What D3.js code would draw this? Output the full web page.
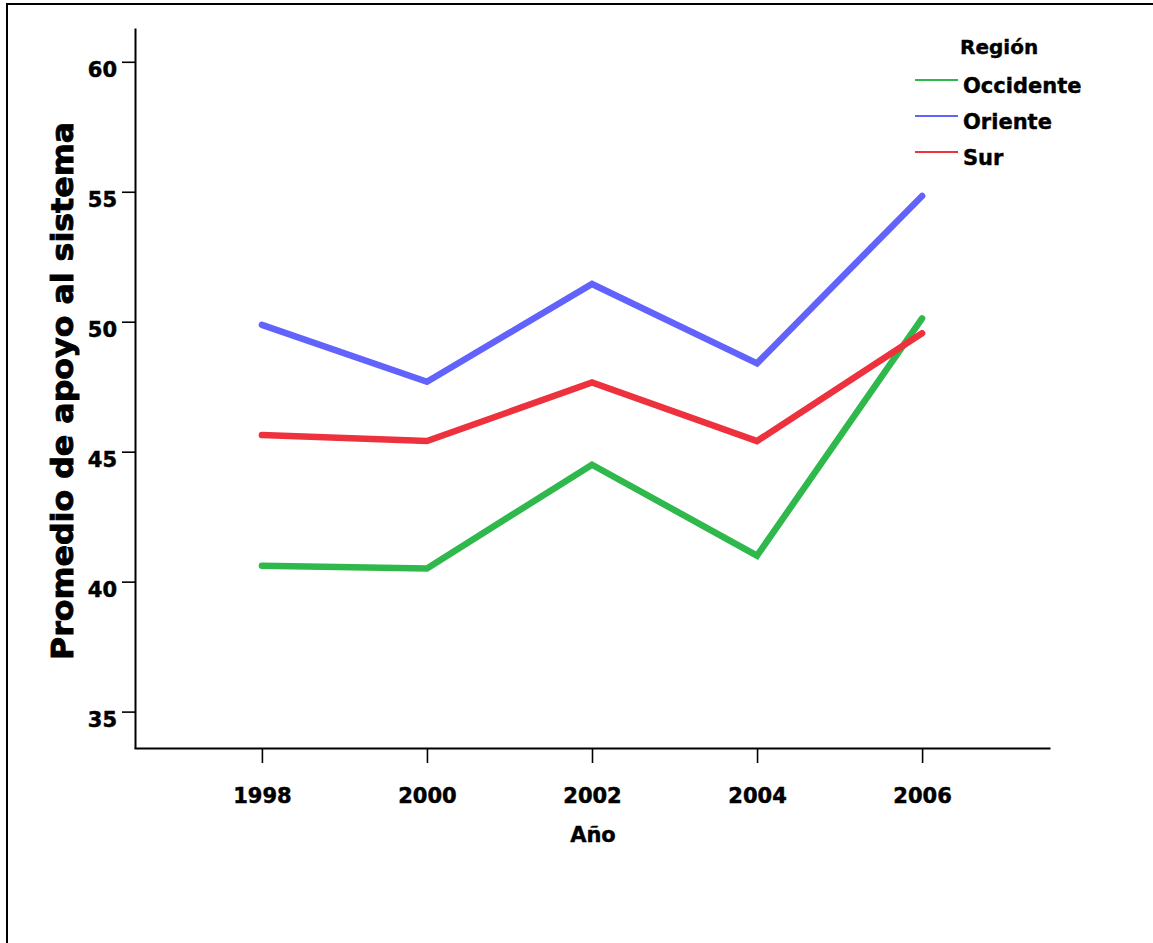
<!DOCTYPE html>
<html>
<head>
<meta charset="utf-8">
<script src="https://cdn.jsdelivr.net/npm/d3@7"></script>
<style>
  html, body { margin: 0; padding: 0; background: #fff; overflow: hidden; }
  svg { display: block; }
  text { font-family: "DejaVu Sans", sans-serif; font-weight: bold; fill: #000; stroke: #000; stroke-width: 0.4px; }
</style>
</head>
<body>
<svg id="chart" width="1153" height="943"></svg>
<script>
const years = [1998, 2000, 2002, 2004, 2006];
const yTicks = [35, 40, 45, 50, 55, 60];
const seriesNames = ["Occidente", "Oriente", "Sur"];
const seriesColors = ["#2fb84b", "#6262fc", "#ee323d"];
const occidente = [40.61, 40.51, 44.50, 41.00, 50.13];
const oriente = [49.88, 47.69, 51.45, 48.40, 54.84];
const sur = [45.64, 45.41, 47.66, 45.41, 49.56];
const seriesValues = [occidente, oriente, sur];
const xTitle = "Año";
const yTitle = "Promedio de apoyo al sistema";
const legendTitle = "Región";

const svg = d3.select("#chart");

// outer frame (only left and top edges are visible in the window)
svg.append("rect")
  .attr("x", 7).attr("y", 4).attr("width", 1400).attr("height", 1400)
  .attr("fill", "none").attr("stroke", "#000").attr("stroke-width", 2);

const x = d3.scaleLinear().domain([1996.45, 2007.55]).range([134, 1050]);
const y = d3.scaleLinear().domain([33.6, 61.3]).range([748, 28]);

// Y axis
const yAxis = svg.append("g")
  .attr("transform", "translate(135,0)")
  .call(d3.axisLeft(y).tickValues(yTicks).tickSize(13).tickSizeOuter(0).tickPadding(5).tickFormat(d3.format("d")));
yAxis.select(".domain").attr("stroke-width", 2);
yAxis.selectAll(".tick line").attr("stroke-width", 1.6);
yAxis.selectAll(".tick text")
  .attr("font-size", 21).attr("dy", null).attr("y", 15)
  .style("font-family", "'DejaVu Sans', sans-serif").style("font-weight", "bold")
  .style("stroke", "#000").style("stroke-width", "0.5px");

// X axis
const xAxis = svg.append("g")
  .attr("transform", "translate(0,748)")
  .call(d3.axisBottom(x).tickValues(years).tickSize(15).tickSizeOuter(0).tickFormat(d3.format("d")));
xAxis.select(".domain").attr("stroke-width", 2);
xAxis.selectAll(".tick line").attr("stroke-width", 1.6);
xAxis.selectAll(".tick text")
  .attr("font-size", 21).attr("dy", null).attr("y", 55)
  .style("font-family", "'DejaVu Sans', sans-serif").style("font-weight", "bold")
  .style("stroke", "#000").style("stroke-width", "0.5px");

// Axis titles
svg.append("text")
  .attr("x", 593).attr("y", 842)
  .attr("text-anchor", "middle").attr("font-size", 21)
  .text(xTitle);

svg.append("text")
  .attr("transform", "translate(73,391) rotate(-90)")
  .attr("text-anchor", "middle").attr("font-size", 30)
  .attr("textLength", 538).attr("lengthAdjust", "spacingAndGlyphs")
  .style("stroke-width", "0.9px")
  .text(yTitle);

// Lines
const line = d3.line().x((d, i) => x(years[i])).y(d => y(d));
seriesValues.forEach((vals, k) => {
  svg.append("path")
    .datum(vals)
    .attr("d", line)
    .attr("fill", "none")
    .attr("stroke", seriesColors[k])
    .attr("stroke-width", 6.5)
    .attr("stroke-linecap", "round")
    .attr("stroke-linejoin", "miter");
});

// Legend
svg.append("text")
  .attr("x", 960).attr("y", 54)
  .attr("font-size", 20)
  .text(legendTitle);

const legendY = [80, 116, 152];
seriesNames.forEach((name, k) => {
  svg.append("line")
    .attr("x1", 915).attr("x2", 958)
    .attr("y1", legendY[k]).attr("y2", legendY[k])
    .attr("stroke", seriesColors[k]).attr("stroke-width", 2);
  svg.append("text")
    .attr("x", 963).attr("y", legendY[k] + 13)
    .attr("font-size", 21)
    .text(name);
});
</script>
</body>
</html>
